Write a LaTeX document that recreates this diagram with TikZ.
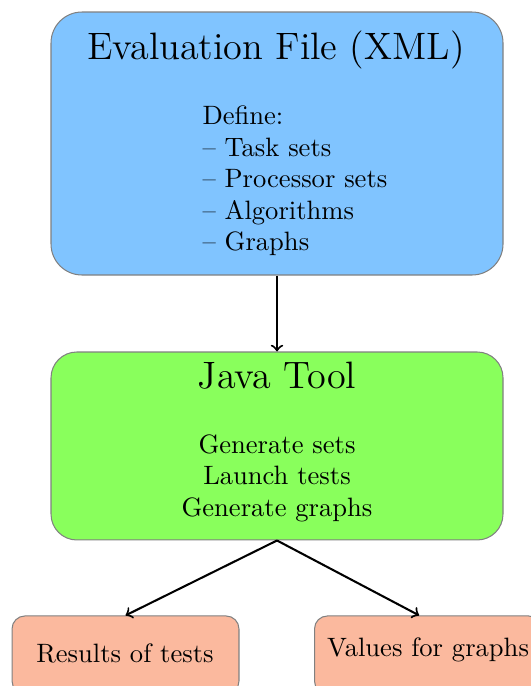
\documentclass[tikz,border=0pt]{standalone}
\usepackage{tikz}
\definecolor{fileBlue}{RGB}{128, 196, 255}
\definecolor{toolGreen}{RGB}{137, 255, 92}
\definecolor{outSalmon}{RGB}{251, 185, 158}

\begin{document}
\begin{tikzpicture}[
    box/.style={draw=black!50, line width=0.4pt, minimum width=6.158cm},
    outbox/.style={draw=black!50, line width=0.4pt, fill=outSalmon, rounded corners=5pt,
      minimum width=3.092cm, minimum height=1.063cm},
    title/.style={anchor=base, font=\fontsize{14.8}{18}\selectfont},
    body/.style={inner sep=0pt, font=\fontsize{10.3}{12.2}\selectfont},
    flow/.style={->, thick}
  ]
      \useasboundingbox (0,0) rectangle (7.234,-9.346);

      % Evaluation file
      \node[box, fill=fileBlue, rounded corners=12pt, minimum height=3.583cm] (xml) at (3.774,-1.955) {};
      \node[title] (xmltitle) at (3.760,-0.817) {Evaluation File (XML)};
      \node[body, anchor=north west, align=left] (xmlbody) at (2.752,-1.440)
        {Define:\\ -- Task sets\\ -- Processor sets\\ -- Algorithms\\ -- Graphs};

      % Java tool
      \node[box, fill=toolGreen, rounded corners=10pt, minimum height=2.561cm] (tool) at (3.774,-6.076) {};
      \node[title] (tooltitle) at (3.774,-5.299) {Java Tool};
      \node[body, anchor=north, align=center] (toolbody) at (3.774,-5.914)
        {Generate sets\\ Launch tests\\ Generate graphs};

      % Outputs
      \node[outbox] (results) at (1.710,-8.923) {};
      \node[body, anchor=base] (resultstext) at (1.703,-9.032) {Results of tests};
      \node[outbox] (values) at (5.831,-8.923) {};
      \node[body, anchor=base] (valuestext) at (5.831,-8.950) {Values for graphs};

      \draw[flow] (xml.south) -- (tool.north);
      \draw[flow] (tool.south) -- (results.north);
      \draw[flow] (tool.south) -- ([xshift=-0.12cm]values.north);
    \end{tikzpicture}
\end{document}
